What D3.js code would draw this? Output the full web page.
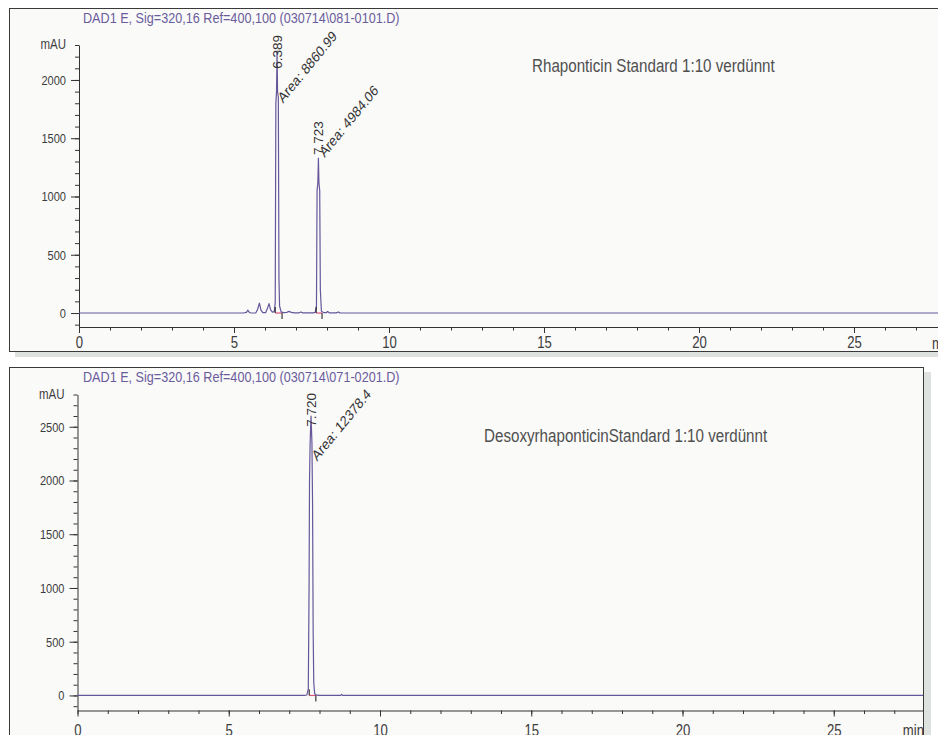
<!DOCTYPE html>
<html>
<head>
<meta charset="utf-8">
<script src="https://cdn.jsdelivr.net/npm/d3@7"></script>
<style>
  html, body { margin: 0; padding: 0; background: #ffffff; overflow: hidden; }
  svg { display: block; }
</style>
</head>
<body>
<svg id="chart" width="938" height="735"></svg>
<script>
// ---------------------------------------------------------------
// Run 1 : Rhaponticin standard, DAD signal 320 nm
// ---------------------------------------------------------------
const run1Header = "DAD1 E, Sig=320,16 Ref=400,100 (030714\\081-0101.D)";
const run1Note = "Rhaponticin Standard 1:10 verdünnt";
const run1Time = [0, 5.30, 5.40, 5.45, 5.50, 5.55, 5.70, 5.76, 5.82, 5.87, 5.93, 6.02, 6.08, 6.13, 6.18, 6.24,
  6.30, 6.33, 6.35, 6.372, 6.389, 6.405, 6.43, 6.45, 6.47, 6.52, 6.60, 6.70, 6.78, 6.85, 6.95, 7.10, 7.16, 7.22,
  7.55, 7.62, 7.66, 7.68, 7.705, 7.723, 7.74, 7.765, 7.785, 7.82, 7.90, 7.98, 8.02, 8.07, 8.30, 8.36, 8.42, 8.60, 28.5];
const run1Signal = [0, 0, 6, 24, 4, 0, 0, 30, 85, 25, 3, 3, 40, 80, 28, 8,
  12, 90, 1800, 1900, 2250, 1900, 1850, 300, 60, 10, 4, 6, 14, 5, 2, 2, 9, 1,
  1, 6, 60, 1050, 1120, 1330, 1120, 1050, 200, 15, 3, 4, 13, 2, 1, 9, 1, 0, 0];
const run1PeakRT = [6.389, 7.723];
const run1PeakArea = ["8860.99", "4984.06"];
const run1PeakStart = [6.33, 7.65];
const run1PeakEnd = [6.55, 7.84];
const run1YMajor = [0, 500, 1000, 1500, 2000];
const run1YMinor = d3.range(-100, 2301, 100);

// ---------------------------------------------------------------
// Run 2 : Desoxyrhaponticin standard, DAD signal 320 nm
// ---------------------------------------------------------------
const run2Header = "DAD1 E, Sig=320,16 Ref=400,100 (030714\\071-0201.D)";
const run2Note = "DesoxyrhaponticinStandard 1:10 verdünnt";
const run2Time = [0, 7.50, 7.58, 7.63, 7.655, 7.67, 7.69, 7.72, 7.75, 7.77, 7.79, 7.81, 7.84, 7.90, 8.00,
  8.70, 8.73, 8.77, 28.5];
const run2Signal = [0, 0, 4, 60, 1000, 2000, 2350, 2600, 2350, 1800, 600, 120, 15, 3, 1,
  0, 10, 0, 0];
const run2PeakRT = [7.720];
const run2PeakArea = ["12378.4"];
const run2PeakStart = [7.66];
const run2PeakEnd = [7.88];
const run2YMajor = [0, 500, 1000, 1500, 2000, 2500];
const run2YMinor = d3.range(-100, 2801, 100);

// Retention-time axis (minutes)
const timeMajor = [0, 5, 10, 15, 20, 25];
const timeMinor = d3.range(0, 29, 1);

// ---------------------------------------------------------------
const W = 938, H = 735;
const SX = 0.82;                      // condensed look of the instrument typeface
const FONT = "'Liberation Sans', Arial, Helvetica, sans-serif";
const TRACE = "#66579b";
const HEADER = "#6a5c9c";
const svg = d3.select("#chart");

function hText(g, x, y, str, size, fill, anchor) {
  return g.append("text")
    .attr("transform", `translate(${x},${y}) scale(${SX},1)`)
    .attr("font-family", FONT)
    .attr("font-size", size)
    .attr("fill", fill)
    .attr("text-anchor", anchor || "start")
    .text(str);
}

const panels = [
  { left: 9, top: 8, right: 1000, bottom: 351, shadow: "bottom",
    x0: 79, x1: 962.5, tMax: 28.5, axisY: 327, yTop: 45,
    xLabelDy: 21.5, minX: 932, minAnchor: "start", headerY: 22.7,
    noteX: 532, noteY: 72, labelTop: 35,
    header: run1Header, note: run1Note, time: run1Time, signal: run1Signal,
    rt: run1PeakRT, area: run1PeakArea, pStart: run1PeakStart, pEnd: run1PeakEnd,
    yMin: -120, yMax: 2300, yMajor: run1YMajor, yMinor: run1YMinor },
  { left: 9, top: 367, right: 923, bottom: 800, shadow: "right",
    x0: 77.5, x1: 923, tMax: 27.95, axisY: 710.5, yTop: 394.5,
    xLabelDy: 25.5, minX: 924, minAnchor: "end", headerY: 381.7,
    noteX: 484, noteY: 442, labelTop: 393,
    header: run2Header, note: run2Note, time: run2Time, signal: run2Signal,
    rt: run2PeakRT, area: run2PeakArea, pStart: run2PeakStart, pEnd: run2PeakEnd,
    yMin: -140, yMax: 2800, yMajor: run2YMajor, yMinor: run2YMinor }
];

panels.forEach((p, i) => {
  const g = svg.append("g");

  // drop shadow and frame
  if (p.shadow === "bottom") {
    g.append("rect").attr("x", p.left + 6).attr("y", p.bottom + 1)
      .attr("width", W).attr("height", 5).attr("fill", "#dee2de");
  } else {
    g.append("rect").attr("x", p.right + 1).attr("y", p.top + 5)
      .attr("width", 7).attr("height", H).attr("fill", "#dee2de");
  }
  g.append("rect")
    .attr("x", p.left + 0.5).attr("y", p.top + 0.5)
    .attr("width", p.right - p.left).attr("height", p.bottom - p.top)
    .attr("fill", "#fafaf9").attr("stroke", "#3a3a3a").attr("stroke-width", 1);

  const clipId = "clip" + i;
  svg.append("clipPath").attr("id", clipId).append("rect")
    .attr("x", p.left + 1).attr("y", p.top + 1)
    .attr("width", p.right - p.left - 1).attr("height", p.bottom - p.top - 1);
  const plot = g.append("g").attr("clip-path", `url(#${clipId})`);

  const x = d3.scaleLinear().domain([0, p.tMax]).range([p.x0, p.x1]);
  const y = d3.scaleLinear().domain([p.yMin, p.yMax]).range([p.axisY, p.yTop]);

  // header and sample note
  hText(plot, p.left + 74, p.headerY, p.header, 15.4, HEADER);
  hText(plot, p.noteX, p.noteY, p.note, 18.5, "#4f4f4f");

  // y axis: minor, then major with labels
  const yMinorG = plot.append("g").attr("transform", `translate(${p.x0},0)`)
    .call(d3.axisLeft(y).tickValues(p.yMinor).tickSize(4).tickSizeOuter(0).tickFormat(""));
  yMinorG.select(".domain").attr("stroke", "#333");
  const yMajorG = plot.append("g").attr("transform", `translate(${p.x0},0)`)
    .call(d3.axisLeft(y).tickValues(p.yMajor).tickSize(8).tickSizeOuter(0).tickFormat(d3.format("d")));
  yMajorG.select(".domain").remove();
  yMajorG.selectAll(".tick line").attr("stroke", "#333");
  yMinorG.selectAll(".tick line").attr("stroke", "#333");
  yMajorG.selectAll(".tick text")
    .attr("x", -13 / SX).attr("transform", `scale(${SX},1)`)
    .attr("font-family", FONT).attr("font-size", 13.5).attr("fill", "#3c3c3c");
  hText(plot, p.x0 - 13, y(p.yMax) + 4, "mAU", 14, "#3c3c3c", "end");

  // x axis: minor, then major with labels
  const xMinorG = plot.append("g").attr("transform", `translate(0,${p.axisY})`)
    .call(d3.axisBottom(x).tickValues(timeMinor.filter(t => t <= p.tMax)).tickSize(3.5).tickSizeOuter(0).tickFormat(""));
  xMinorG.select(".domain").attr("stroke", "#333");
  xMinorG.selectAll(".tick line").attr("stroke", "#333");
  const xMajorG = plot.append("g").attr("transform", `translate(0,${p.axisY})`)
    .call(d3.axisBottom(x).tickValues(timeMajor).tickSize(6).tickSizeOuter(0));
  xMajorG.select(".domain").remove();
  xMajorG.selectAll(".tick line").attr("stroke", "#333");
  xMajorG.selectAll(".tick text")
    .attr("y", p.xLabelDy).attr("dy", null).attr("transform", `scale(${SX},1)`)
    .attr("font-family", FONT).attr("font-size", 16).attr("fill", "#3c3c3c");
  hText(plot, p.minX, p.axisY + p.xLabelDy, "min", 16, "#3c3c3c", p.minAnchor);

  // integration baselines (drawn under the trace)
  const y0 = y(0);
  p.pStart.forEach((s, k) => {
    plot.append("line")
      .attr("x1", x(s)).attr("x2", x(p.pEnd[k])).attr("y1", y0).attr("y2", y0)
      .attr("stroke", "#e0557a").attr("stroke-width", 1.2);
  });

  // chromatogram trace
  const pts = p.time.map((t, k) => [t, p.signal[k]]);
  plot.append("path").datum(pts)
    .attr("fill", "none").attr("stroke", TRACE).attr("stroke-width", 1.2)
    .attr("stroke-linejoin", "round")
    .attr("d", d3.line().x(d => x(d[0])).y(d => y(d[1])));

  // peak start / end event marks
  p.pStart.forEach((s, k) => {
    plot.append("line").attr("x1", x(s)).attr("x2", x(s)).attr("y1", y0).attr("y2", y0 - 6)
      .attr("stroke", "#111").attr("stroke-width", 1);
    const e = p.pEnd[k];
    plot.append("line").attr("x1", x(e)).attr("x2", x(e)).attr("y1", y0).attr("y2", y0 + 6)
      .attr("stroke", "#111").attr("stroke-width", 1);
  });

  // retention-time and area annotations
  p.rt.forEach((rt, k) => {
    const apex = p.signal[p.time.indexOf(rt)];
    const xr = x(rt), ya = y(apex);

    const t = plot.append("text")
      .attr("font-family", FONT).attr("font-size", 13.5).attr("fill", "#333")
      .text(rt.toFixed(3));
    const len = t.node().getComputedTextLength();
    const yb = Math.max(ya - 3, p.labelTop + len);
    t.attr("transform", `translate(${xr + 4.5},${yb}) rotate(-90)`);

    const a = plot.append("text")
      .attr("font-family", FONT).attr("font-size", 15).attr("fill", "#333")
      .text("Area: " + p.area[k]);
    const alen = a.node().getComputedTextLength();
    const ys = Math.max(ya, p.labelTop + alen * Math.SQRT1_2 + 2);
    a.attr("transform", `translate(${xr + 6},${ys}) scale(${SX},1) rotate(-45)`);
  });
});
</script>
</body>
</html>
